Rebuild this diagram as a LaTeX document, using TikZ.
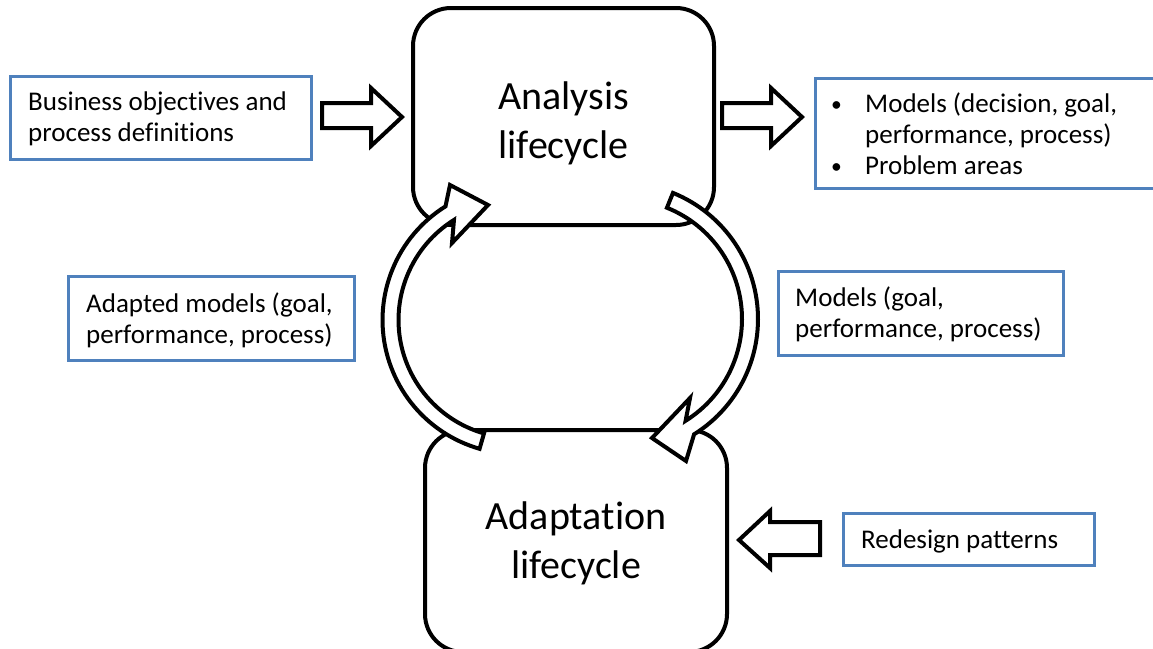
\documentclass[tikz,border=0pt]{standalone}
\usepackage{fontspec}
\setmainfont{Carlito}[Ligatures=NoCommon]
\definecolor{boxblue}{RGB}{79,129,189}
\tikzset{
  lifebox/.style={draw=black, line width=4pt, rounded corners=38pt, fill=white,
    outer sep=0pt, inner sep=0pt},
  infobox/.style={draw=boxblue, line width=3pt, fill=white, outer sep=0pt, inner sep=0pt},
  infotext/.style={anchor=west, align=left, inner sep=0pt,
    font=\fontsize{27}{31}\selectfont},
  bigtext/.style={align=center, inner sep=0pt, font=\fontsize{40}{49}\selectfont},
  blockarrow/.style={draw=black, line width=4pt, fill=white, line join=miter},
  bandarrow/.style={draw=black, line width=4pt, fill=white, line join=miter},
}
\newcommand{\bul}{\makebox[34pt][l]{\raisebox{1pt}{\scalebox{0.8}{\textbullet}}}}
\begin{document}
\begin{tikzpicture}[x=1pt, y=-1pt]
  \path[use as bounding box, clip] (0,0) rectangle (1153,648);

  % the two lifecycle stages
  \node[lifebox, minimum width=301pt, minimum height=217pt] (analysis) at (563.5,116.5) {};
  \node[lifebox, minimum width=302pt, minimum height=222pt] (adaptation) at (576,541) {};
  \node[bigtext] (analysistxt) at (563.5,124) {\strut Analysis\\lifecycle\strut};
  \node[bigtext] (adaptationtxt) at (576,544) {\strut Adaptation\\lifecycle\strut};

  % inputs and outputs
  \node[infobox, minimum width=301pt, minimum height=83pt] (objbox) at (160.5,117.5) {};
  \node[infotext] (objtxt) at (28,119.5) {\strut Business objectives and\\\strut process definitions};

  \node[infobox, minimum width=345pt, minimum height=110pt] (outbox) at (987.5,133) {};
  \node[infotext] (outtxt) at (831,137)
    {\strut\bul Models (decision, goal,\\\strut\hspace*{34pt}performance, process)\\\strut\bul Problem areas\strut};

  \node[infobox, minimum width=286pt, minimum height=84pt] (adaptbox) at (211,318) {};
  \node[infotext] (adapttxt) at (86,321.5) {\strut Adapted models (goal,\\\strut performance, process)};

  \node[infobox, minimum width=285pt, minimum height=84pt] (modbox) at (920.5,313) {};
  \node[infotext] (modtxt) at (795,316) {\strut Models (goal,\\\strut performance, process)};

  \node[infobox, minimum width=251pt, minimum height=52pt] (patbox) at (968.5,539) {};
  \node[infotext] (pattxt) at (861,542) {\strut Redesign patterns};

  % block arrows
  \draw[blockarrow] (322,103) -- (371,103) -- (371,88) -- (402,117) -- (371,146)
    -- (371,128) -- (322,128) -- cycle;
  \draw[blockarrow] (722,103) -- (771,103) -- (771,88) -- (802,117) -- (771,146)
    -- (771,128) -- (722,128) -- cycle;
  \draw[blockarrow] (820,522) -- (770,522) -- (770,511) -- (739,540) -- (770,568)
    -- (770,555) -- (820,555) -- cycle;

  % curved band arrows of the cycle
  \draw[bandarrow] plot[domain=254:122, samples=60] ({516.5+134*cos(\x)},{320-134*sin(\x)})
    -- (450,185) -- (488,205) -- (452,243)
    -- plot[domain=122:254, samples=60] ({516.5+118*cos(\x)},{320-118*sin(\x)}) -- cycle;
  \draw[bandarrow] plot[domain=68:-58, samples=60] ({622+136*cos(\x)},{319-136*sin(\x)})
    -- (686,461) -- (652,438) -- (690,398)
    -- plot[domain=-58:68, samples=60] ({622+120*cos(\x)},{319-120*sin(\x)}) -- cycle;
\end{tikzpicture}
\end{document}
